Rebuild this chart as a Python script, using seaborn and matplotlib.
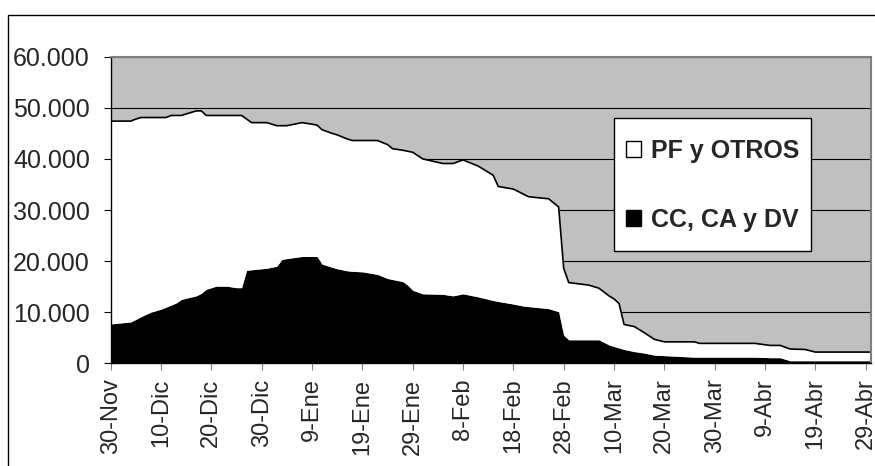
import numpy as np
import pandas as pd
import matplotlib
matplotlib.use("Agg")
import matplotlib.pyplot as plt
from matplotlib.patches import Patch, Rectangle
from matplotlib.ticker import FuncFormatter
import seaborn as sns

# Data (days counted from 30-Nov)
inicio = "2001-11-30"
dias = [0, 2, 4, 5, 6, 7, 8, 10, 11, 12, 13, 14, 17, 18, 19, 21, 23, 25, 26, 27,
        28, 30, 31, 33, 34, 35, 38, 40, 41, 42, 44, 45, 46, 47, 48, 50, 53, 55, 56, 58,
        59, 60, 62, 66, 68, 70, 73, 76, 77, 80, 82, 83, 87, 89, 90, 91, 95, 97, 99, 100,
        101, 102, 104, 106, 108, 110, 116, 117, 128, 131, 133, 135, 138, 140, 151]
cc_ca_dv = [7700, 7900, 8100, 8600, 9100, 9600, 10000, 10600, 11000, 11400, 11800, 12500,
            13200, 13700, 14500, 15100, 15100, 14800, 14800, 18200, 18300, 18500, 18600,
            19000, 20300, 20500, 20900, 20900, 20900, 19400, 18800, 18500, 18300, 18100,
            18000, 17900, 17400, 16600, 16400, 16000, 15300, 14300, 13600, 13500, 13200,
            13600, 13000, 12300, 12100, 11600, 11200, 11100, 10700, 10100, 5500, 4600,
            4600, 4600, 3600, 3300, 3000, 2700, 2300, 2000, 1600, 1500, 1200, 1200, 1200,
            1100, 1100, 500, 500, 500, 500]
pf_otros = [39700, 39500, 39300, 39200, 39000, 38500, 38100, 37500, 37100, 37100, 36700,
            36000, 36200, 35700, 34000, 33400, 33400, 33700, 33700, 29600, 28800, 28600,
            28500, 27500, 26200, 26000, 26200, 25900, 25700, 26300, 26200, 26200, 26000,
            25800, 25600, 25700, 26200, 26200, 25600, 25700, 26200, 27000, 26400, 25600,
            25900, 26200, 25600, 24500, 22500, 22500, 21900, 21500, 21500, 20500, 13100,
            11200, 10700, 10100, 9600, 9300, 8700, 4900, 4900, 4000, 3100, 2700, 3000,
            2700, 2700, 2400, 2400, 2300, 2200, 1700, 1700]
ticks_dias = list(range(0, 151, 10))
meses = {11: "Nov", 12: "Dic", 1: "Ene", 2: "Feb", 3: "Mar", 4: "Abr"}
y_ticks = [0, 10000, 20000, 30000, 40000, 50000, 60000]

sns.set_style("white")
plt.rcParams["font.family"] = ["Liberation Sans", "DejaVu Sans"]

df = pd.DataFrame({"dia": dias, "cc": cc_ca_dv, "pf": pf_otros})
df["total"] = df["cc"] + df["pf"]

W, H = 875, 466
fig = plt.figure(figsize=(W / 100, H / 100), dpi=100)
ax = fig.add_axes([110.7 / W, (H - 363.3) / H, 760 / W, 306.6 / H])

# outer chart border
fig.patches.append(Rectangle((8 / W, -0.05), 1.2, (H - 15) / H + 0.05,
                             transform=fig.transFigure, fill=False,
                             edgecolor="black", linewidth=1))

ax.set_facecolor("#C0C0C0")
ax.stackplot(df["dia"], df["cc"], df["pf"], colors=["black", "white"],
             linewidth=0, zorder=2)
sns.lineplot(data=df, x="dia", y="total", color="black", linewidth=1.2,
             ax=ax, zorder=3)

ax.set_xlim(0, 151)
ax.set_ylim(0, 60000)
ax.set_yticks(y_ticks)
ax.yaxis.set_major_formatter(FuncFormatter(lambda v, p: f"{int(v):,}".replace(",", ".")))
ax.grid(axis="y", color="black", linewidth=0.8)
ax.set_axisbelow(True)

fechas = pd.Timestamp(inicio) + pd.to_timedelta(ticks_dias, unit="D")
ax.set_xticks(ticks_dias)
ax.set_xticklabels([f"{f.day}-{meses[f.month]}" for f in fechas], rotation=90)
ax.set_xlabel("")
ax.set_ylabel("")

ax.tick_params(axis="y", left=True, length=5, width=0.8, color="black",
               labelsize=18, pad=10)
ax.tick_params(axis="x", bottom=True, length=5, width=0.8, color="#808080",
               labelsize=17, pad=6)

for s in ["left", "bottom"]:
    ax.spines[s].set_color("black")
    ax.spines[s].set_linewidth(1)
for s in ["top", "right"]:
    ax.spines[s].set_color("#808080")
    ax.spines[s].set_linewidth(1.5)
for s in ax.spines.values():
    s.set_zorder(5)

# legend box drawn separately so its padding can match the original
fig.patches.append(Rectangle((614 / W, (H - 251) / H), 197 / W, 133 / H,
                             transform=fig.transFigure, facecolor="white",
                             edgecolor="black", linewidth=1, zorder=6))
handles = [Patch(facecolor="white", edgecolor="black", linewidth=1),
           Patch(facecolor="black", edgecolor="black", linewidth=1)]
leg = fig.legend(handles, ["PF y OTROS", "CC, CA y DV"], loc="upper left",
                 bbox_to_anchor=(626 / W, (H - 139) / H),
                 prop={"weight": "bold", "size": 18}, frameon=False,
                 borderpad=0, labelspacing=1.8, handlelength=0.6,
                 handleheight=0.6, handletextpad=0.4, borderaxespad=0)
leg.set_zorder(7)

fig.savefig("out.png", dpi=100)
